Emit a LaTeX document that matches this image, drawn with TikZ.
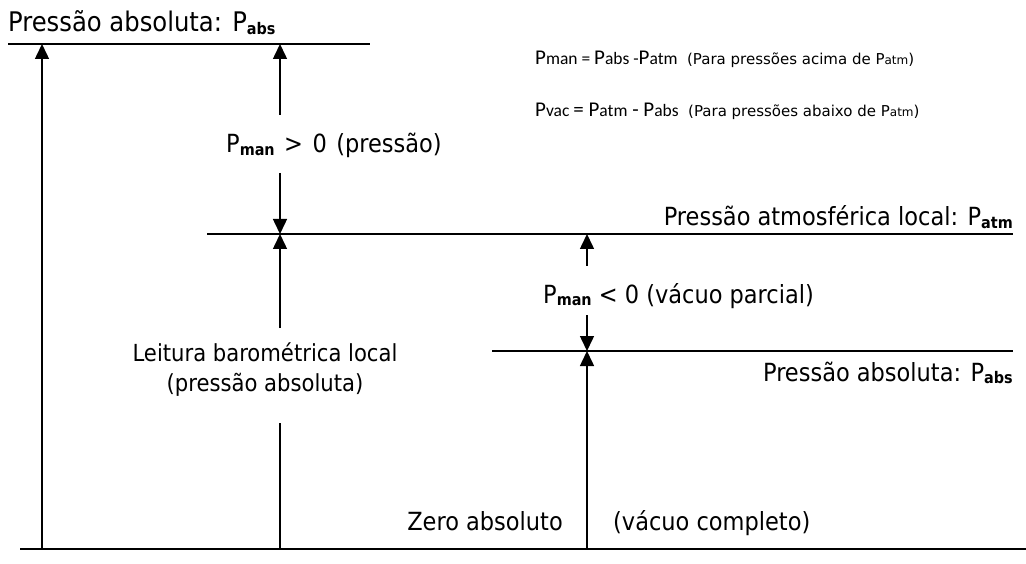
\documentclass[tikz,border=0pt]{standalone}
\usepackage{fontspec}
\setmainfont{DejaVu Sans Condensed}
\newfontfamily\calfont{Carlito}
\newfontfamily\verdfont{DejaVu Sans}
\usetikzlibrary{arrows.meta}
\newcommand{\sbold}[1]{\raisebox{-0.1em}{\fontsize{16}{16}\selectfont\bfseries #1}}
\newcommand{\ssub}[1]{{\fontsize{17.5}{15}\selectfont #1}}
\newcommand{\paren}[1]{{\verdfont\fontsize{15}{15}\selectfont #1}}
\newcommand{\psub}[1]{{\fontsize{12}{11}\selectfont #1}}
\newcommand{\wsp}{\hspace{0.38em}}
\begin{document}
\begin{tikzpicture}[x=1pt,y=-1pt,
  level/.style={line width=1.6pt},
  arr/.style={line width=1.5pt,-{Triangle[length=15pt,width=14pt]}},
  bar/.style={line width=1.5pt},
  lbl/.style={inner sep=0pt,font=\fontsize{25}{30}\selectfont},
  mid/.style={inner sep=0pt,font=\fontsize{23.5}{30}\selectfont},
  big/.style={inner sep=0pt,font=\fontsize{27}{28}\selectfont},
  eq/.style={inner sep=0pt,font=\calfont\fontsize{21}{20}\selectfont}]
\useasboundingbox[fill=white] (0,0) rectangle (1026,564);
% levels
\coordinate (t1) at (8,44);   \coordinate (t2) at (370,44);
\coordinate (a1) at (207,234); \coordinate (a2) at (1013,234);
\coordinate (b1) at (492,351); \coordinate (b2) at (1013,351);
\coordinate (z1) at (20,549);  \coordinate (z2) at (1026,549);
\draw[level] (t1) -- (t2);
\draw[level] (a1) -- (a2);
\draw[level] (b1) -- (b2);
\draw[level,line width=2pt] (z1) -- (z2);
% left arrow
\coordinate (L0) at (42,549); \coordinate (L1) at (42,44);
\draw[arr] (L0) -- (L1);
% middle arrows
\coordinate (m1) at (280,115); \coordinate (m1e) at (280,44);
\coordinate (m2) at (280,173); \coordinate (m2e) at (280,234);
\coordinate (m3) at (280,328); \coordinate (m3e) at (280,234);
\coordinate (m4) at (280,423); \coordinate (m4e) at (280,549);
\draw[arr] (m1) -- (m1e);
\draw[arr] (m2) -- (m2e);
\draw[arr] (m3) -- (m3e);
\draw[bar] (m4) -- (m4e);
% right arrows
\coordinate (v1) at (587,266); \coordinate (v1e) at (587,234);
\coordinate (v2) at (587,315); \coordinate (v2e) at (587,351);
\coordinate (v3) at (587,549); \coordinate (v3e) at (587,351);
\draw[arr] (v1) -- (v1e);
\draw[arr] (v2) -- (v2e);
\draw[arr] (v3) -- (v3e);
% texts
\node[big,anchor=base west] (title) at (8,32) {Pressão absoluta: P\sbold{abs}};
\node[eq,anchor=base west] (eq1) at (535,65) {P\ssub{man = }P\ssub{abs -}P\ssub{atm}\ \ \paren{(Para pressões acima de P\psub{atm})}};
\node[eq,anchor=base west] (eq2) at (535,117) {P\ssub{vac }= P\ssub{atm} - P\ssub{abs}\ \ \paren{(Para pressões abaixo de P\psub{atm})}};
\node[lbl,anchor=base west] (pos) at (226,153) {P\sbold{man}\wsp>\wsp0\wsp(pressão)};
\node[lbl,anchor=base east] (atm) at (1013,226) {Pressão atmosférica local: P\sbold{atm}};
\node[lbl,anchor=base west] (neg) at (543,303) {P\sbold{man} < 0 (vácuo parcial)};
\node[lbl,anchor=base east] (abs) at (1013,381) {Pressão absoluta: P\sbold{abs}};
\node[mid,align=center] (baro) at (265,370) {Leitura barométrica local\\(pressão absoluta)};
\node[lbl,anchor=base east] (zero) at (563,530) {Zero absoluto};
\node[lbl,anchor=base west] (vac) at (613,530) {(vácuo completo)};
\end{tikzpicture}
\end{document}
